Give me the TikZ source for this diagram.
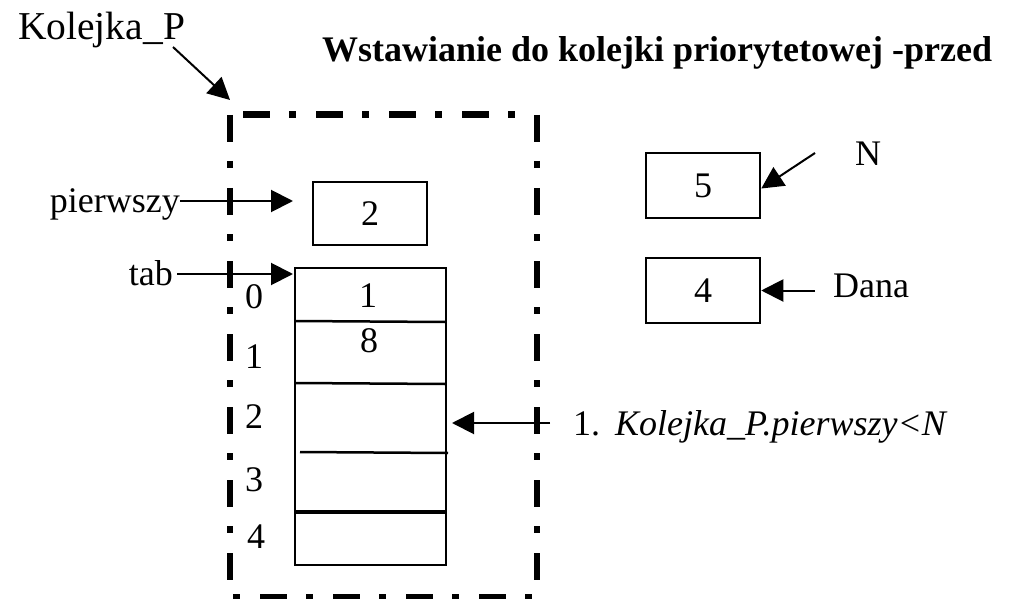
\documentclass[tikz,border=0pt]{standalone}
\usepackage{fontspec}
\setmainfont{Liberation Serif}
\usetikzlibrary{arrows.meta}
\begin{document}
\begin{tikzpicture}[x=1pt,y=-1pt,
  txt/.style={inner sep=0pt, font=\fontsize{36}{40}\selectfont},
  box/.style={draw, line width=2.5pt, minimum width=114pt, minimum height=64pt, inner sep=0pt, font=\fontsize{36}{40}\selectfont},
  arr/.style={line width=2pt, -{Triangle[length=22pt,width=22pt]}},
  frame/.style={line width=6.5pt, dash pattern=on 27pt off 19pt on 7pt off 20pt},
  row/.style={line width=2.5pt}]
\useasboundingbox (0,0) rectangle (1010,599);
% title and main label
\node[txt, anchor=base west, font=\fontsize{36}{40}\selectfont\bfseries] (title) at (322,62) {Wstawianie do kolejki priorytetowej -przed};
\node[txt, anchor=base west, font=\fontsize{39.5}{44}\selectfont] (kol) at (18,40) {Kolejka\_P};
% frame
\draw[frame] (243,114.5) -- (530,114.5);
\draw[frame] (230,115) -- (230,582);
\draw[frame] (537,115) -- (537,582);
\draw[frame, dash phase=46pt] (233,597.5) -- (537,597.5);
% boxes
\node[box, minimum height=63pt] (b2) at (370,213.5) {2};
\node[box, minimum height=65pt] (b5) at (703,185.5) {5};
\node[box, minimum height=65pt] (b4) at (703,290.5) {4};
% table
\node[draw, line width=2.5pt, minimum width=151pt, minimum height=297pt, inner sep=0pt] (tab) at (370.5,416.5) {};
\draw[row] (295,321) -- (445,322);
\draw[row] (295,383) -- (445,384);
\draw[row] (300,452) -- (448,453);
\draw[line width=3.5pt] (295,512) -- (445,512);
\node[txt, anchor=base] (v1) at (368,307) {1};
\node[txt, anchor=base] (v8) at (369,352) {8};
% indices
\node[txt, anchor=base] (i0) at (254,308) {0};
\node[txt, anchor=base] (i1) at (254,368) {1};
\node[txt, anchor=base] (i2) at (254,428) {2};
\node[txt, anchor=base] (i3) at (254,491) {3};
\node[txt, anchor=base] (i4) at (256,548) {4};
% labels
\node[txt, anchor=base east] (pie) at (180,212) {pierwszy};
\node[txt, anchor=base east] (tabl) at (173,285) {tab};
\node[txt] (N) at (868,153.5) {N};
\node[txt, anchor=base west] (dana) at (833,297) {Dana};
\node[txt, anchor=base west] (num) at (573,435) {1.};
\node[txt, anchor=base west] (cond) at (615,435) {\itshape Kolejka\_P.pierwszy<N};
% connectors
\coordinate (kolS) at (173,47);
\coordinate (kolT) at (230,100);
\draw[arr] (kolS) -- (kolT);
\coordinate (pieT) at (293,201);
\draw[arr] (pie.east |- pieT) -- (pieT);
\coordinate (tabS) at (177,274);
\coordinate (tabT) at (293,274);
\draw[arr] (tabS) -- (tabT);
\coordinate (NS) at (815,153);
\draw[arr] (NS) -- ([yshift=-3pt]b5.east);
\coordinate (danaS) at (815,290.5);
\draw[arr] (danaS) -- (b4.east);
\coordinate (condS) at (550,423);
\coordinate (condT) at (452,423);
\draw[arr] (condS) -- (condT);
\end{tikzpicture}
\end{document}
